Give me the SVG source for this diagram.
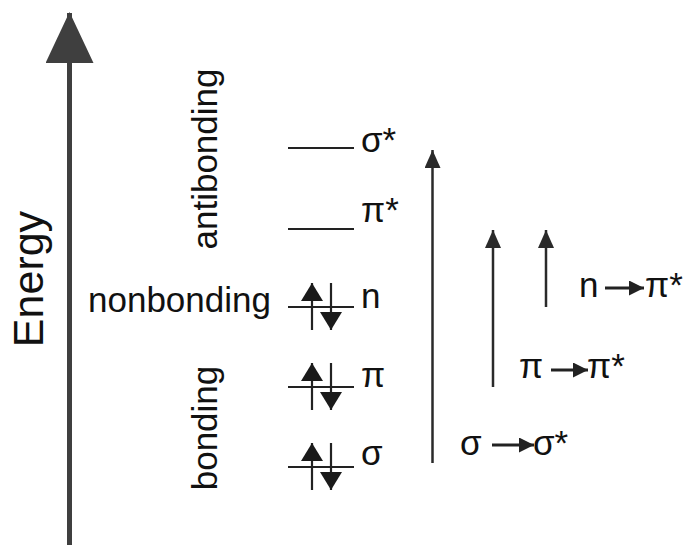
<svg xmlns="http://www.w3.org/2000/svg" width="686" height="545" viewBox="0 0 686 545">
<defs>
<style>
text{font-family:"Liberation Sans",Arial,sans-serif;fill:#111}
.lbl{font-size:35px}
.lvl{stroke:#222;stroke-width:2;fill:none}
.el{stroke:#222;stroke-width:2.2;fill:none;marker-end:url(#eh)}
.tr{stroke:#2a2a2a;stroke-width:2.5;fill:none;marker-end:url(#th)}
.la{stroke:#222;stroke-width:3;fill:none;marker-end:url(#lh)}
</style>
<marker id="ax" markerUnits="userSpaceOnUse" markerWidth="51" markerHeight="48" refX="50" refY="24" orient="auto"><path d="M0,0 L51,24 L0,48 z" fill="#3f3f3f"/></marker>
<marker id="eh" markerUnits="userSpaceOnUse" markerWidth="18" markerHeight="22" refX="18" refY="11" orient="auto"><path d="M0,0 L18,11 L0,22 z" fill="#1a1a1a"/></marker>
<marker id="th" markerUnits="userSpaceOnUse" markerWidth="18" markerHeight="16" refX="18" refY="8" orient="auto"><path d="M0,0 L18,8 L0,16 z" fill="#2a2a2a"/></marker>
<marker id="lh" markerUnits="userSpaceOnUse" markerWidth="15" markerHeight="15" refX="15" refY="7.5" orient="auto"><path d="M0,0 L15,7.5 L0,15 z" fill="#222"/></marker>
</defs>
<rect width="686" height="545" fill="#fff"/>
<g id="energy-axis">
<line x1="69.5" y1="545" x2="69.5" y2="13" stroke="#3f3f3f" stroke-width="5" marker-end="url(#ax)"/>
<text class="lbl" font-size="43" style="font-size:43px" text-anchor="middle" transform="translate(43,279) rotate(-90)">Energy</text>
</g>
<g id="region-labels">
<text class="lbl" text-anchor="middle" transform="translate(217,159) rotate(-90)">antibonding</text>
<text class="lbl" x="88" y="312">nonbonding</text>
<text class="lbl" text-anchor="middle" transform="translate(217,428) rotate(-90)">bonding</text>
</g>
<g id="level-sigma-star">
<line class="lvl" x1="288" y1="148" x2="354" y2="148"/>
<text class="lbl" x="361" y="152">σ*</text>
</g>
<g id="level-pi-star">
<line class="lvl" x1="288" y1="229" x2="354" y2="229"/>
<text class="lbl" x="361" y="222">π*</text>
</g>
<g id="level-n">
<line class="lvl" x1="288" y1="307" x2="354" y2="307"/>
<line class="el" x1="312" y1="330" x2="312" y2="283"/>
<line class="el" x1="331" y1="283" x2="331" y2="330"/>
<text class="lbl" x="361" y="308">n</text>
</g>
<g id="level-pi">
<line class="lvl" x1="288" y1="387" x2="354" y2="387"/>
<line class="el" x1="312" y1="410" x2="312" y2="363"/>
<line class="el" x1="331" y1="363" x2="331" y2="410"/>
<text class="lbl" x="361" y="387">π</text>
</g>
<g id="level-sigma">
<line class="lvl" x1="288" y1="467" x2="354" y2="467"/>
<line class="el" x1="312" y1="490" x2="312" y2="443"/>
<line class="el" x1="331" y1="443" x2="331" y2="490"/>
<text class="lbl" x="361" y="465">σ</text>
</g>
<g id="connectors">
<line class="tr" x1="432.5" y1="463" x2="432.5" y2="150"/>
<line class="tr" x1="493" y1="387" x2="493" y2="230"/>
<line class="tr" x1="546" y1="307" x2="546" y2="230"/>
</g>
<g id="label-n-pi-star">
<text class="lbl" x="579" y="297">n</text>
<line class="la" x1="605" y1="288" x2="644" y2="288"/>
<text class="lbl" x="645" y="297">π*</text>
</g>
<g id="label-pi-pi-star">
<text class="lbl" x="519" y="378">π</text>
<line class="la" x1="551" y1="370" x2="588" y2="370"/>
<text class="lbl" x="587" y="378">π*</text>
</g>
<g id="label-sigma-sigma-star">
<text class="lbl" x="460" y="455">σ</text>
<line class="la" x1="492" y1="445" x2="534" y2="445"/>
<text class="lbl" x="533" y="455">σ*</text>
</g>
</svg>
